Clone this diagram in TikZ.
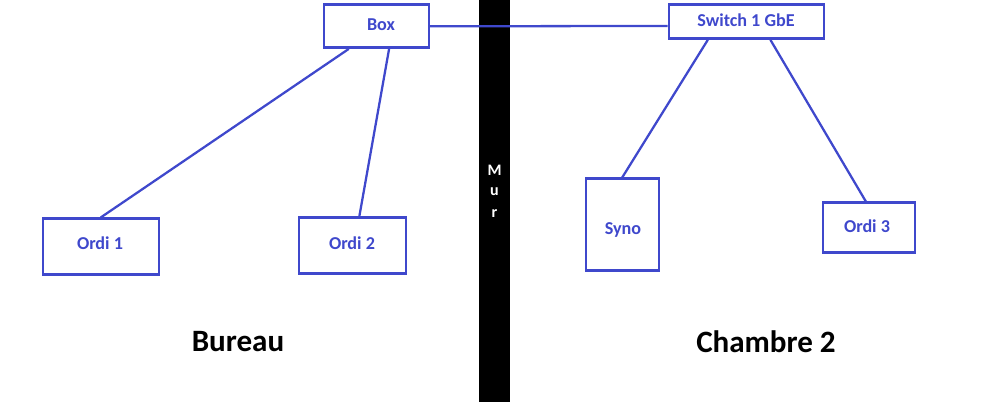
\documentclass[tikz,border=0pt]{standalone}
\usepackage{fontspec}
\setmainfont{Carlito}
\usetikzlibrary{calc}
\definecolor{netblue}{RGB}{63,72,204}
\begin{document}
\begin{tikzpicture}[x=0.75pt,y=-0.75pt,
  dev/.style={draw=netblue,line width=1.8pt,inner sep=0pt,anchor=north west},
  lbl/.style={text=netblue,font=\bfseries\fontsize{13.6}{16}\selectfont,inner sep=0pt},
  wall/.style={font=\bfseries\fontsize{12}{14}\selectfont,text=white,inner sep=0pt},
  link/.style={draw=netblue,line width=1.7pt},
  zone/.style={font=\bfseries\fontsize{23.3}{27}\selectfont,text=black}]
\useasboundingbox (0,0) rectangle (1000,402);
\fill[black] (479,0) rectangle (510,402);
\node[wall] (m1) at (494.5,170) {M};
\node[wall] (m2) at (494.5,192) {u};
\node[wall] (m3) at (494.5,214) {r};
\node[dev,minimum width=105*0.75pt,minimum height=43*0.75pt] (box) at (322.5,3.5) {};
\node[lbl] (boxt) at (381,25) {Box};
\node[dev,minimum width=155*0.75pt,minimum height=34*0.75pt] (sw) at (667.5,3.5) {};
\node[lbl] (swt) at (746,20) {Switch 1 GbE};
\node[dev,minimum width=116*0.75pt,minimum height=56*0.75pt] (o1) at (41.5,217.5) {};
\node[lbl] (o1t) at (100,243) {Ordi 1};
\node[dev,minimum width=107*0.75pt,minimum height=56*0.75pt] (o2) at (297.5,216.5) {};
\node[lbl] (o2t) at (352,243) {Ordi 2};
\node[dev,minimum width=73*0.75pt,minimum height=92*0.75pt] (syno) at (584.5,177.5) {};
\node[lbl] (synot) at (623,230) {Syno};
\node[dev,minimum width=92*0.75pt,minimum height=50*0.75pt] (o3) at (821.5,201.5) {};
\node[lbl] (o3t) at (867,226) {Ordi 3};
\draw[link] ($(box.north east)!0.5!(box.south east)$) -- ($(sw.north west)!0.62!(sw.south west)$);
\draw[link] ($(box.south west)!0.245!(box.south east)$) -- ($(o1.north west)!0.5!(o1.north east)$);
\draw[link] ($(box.south west)!0.62!(box.south east)$) -- ($(o2.north west)!0.565!(o2.north east)$);
\draw[link] ($(sw.south west)!0.256!(sw.south east)$) -- ($(syno.north west)!0.5!(syno.north east)$);
\draw[link] ($(sw.south west)!0.654!(sw.south east)$) -- ($(o3.north west)!0.47!(o3.north east)$);
\node[zone] (bureau) at (238,342) {Bureau};
\node[zone] (chambre) at (766,342) {Chambre 2};
\end{tikzpicture}
\end{document}
